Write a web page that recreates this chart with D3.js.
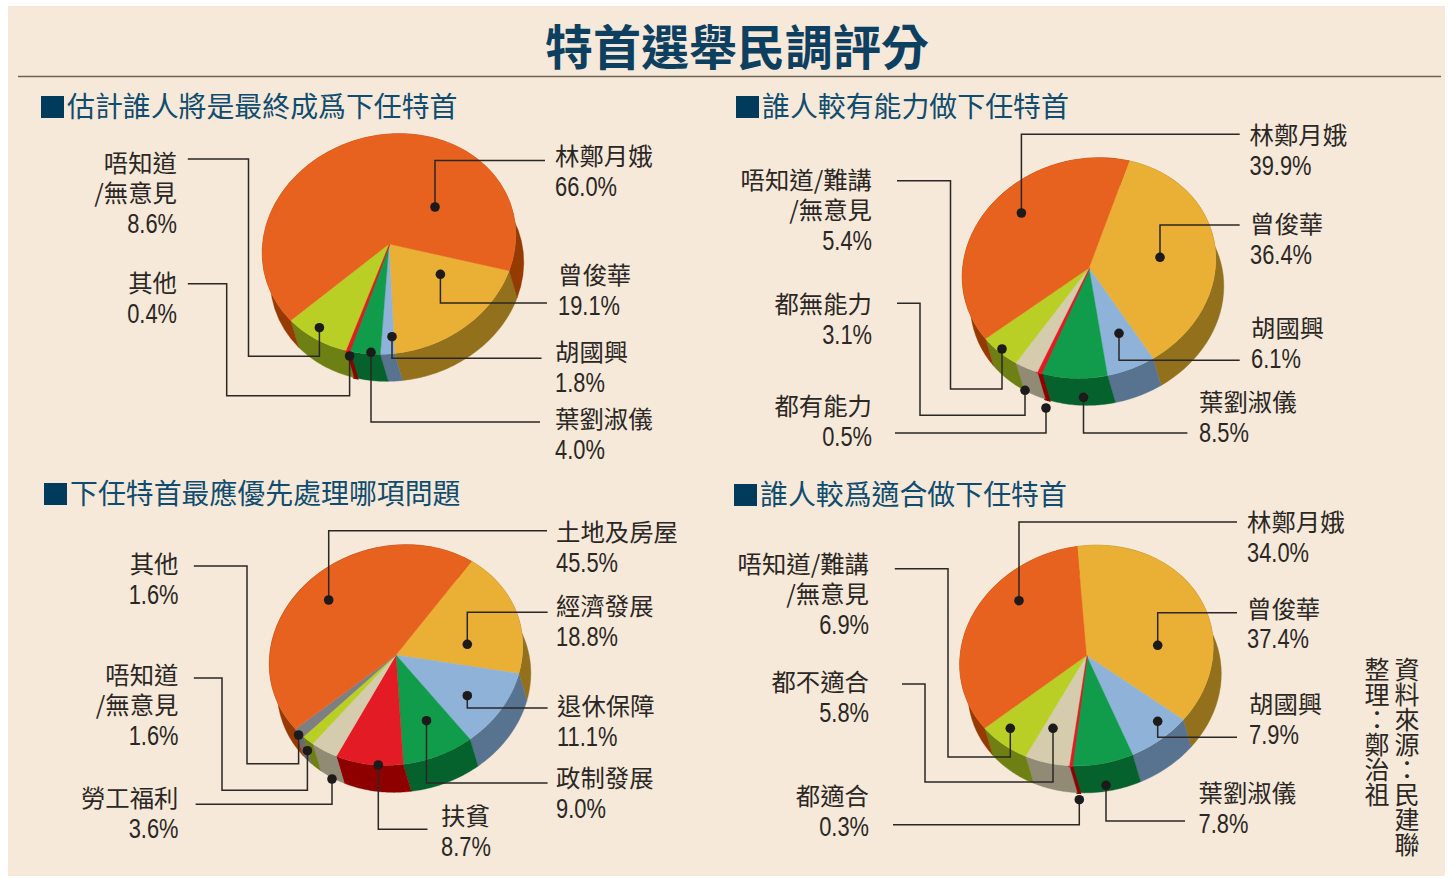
<!DOCTYPE html>
<html lang="zh-Hant">
<head>
<meta charset="utf-8">
<script src="https://cdn.jsdelivr.net/npm/d3@7/dist/d3.min.js"></script>
<style>
html,body{margin:0;padding:0;background:#fff;overflow:hidden}
svg{display:block}
text{font-family:"Noto Sans CJK TC","Noto Sans CJK SC",sans-serif}
.pct{font-family:"Liberation Sans",sans-serif}
</style>
</head>
<body>
<script>
// ---------- DATA ----------
const titleText = "特首選舉民調評分";
const sourceLines = ["資料來源：民建聯", "整理：鄭治祖"];

const headings = ["估計誰人將是最終成爲下任特首", "誰人較有能力做下任特首", "下任特首最應優先處理哪項問題", "誰人較爲適合做下任特首"];

const categories1 = [["曾俊華"], ["胡國興"], ["葉劉淑儀"], ["其他"], ["唔知道", "/無意見"], ["林鄭月娥"]];
const values1 = [19.1, 1.8, 4.0, 0.4, 8.6, 66.0];

const categories2 = [["曾俊華"], ["胡國興"], ["葉劉淑儀"], ["都有能力"], ["都無能力"], ["唔知道/難講", "/無意見"], ["林鄭月娥"]];
const values2 = [36.4, 6.1, 8.5, 0.5, 3.1, 5.4, 39.9];

const categories3 = [["經濟發展"], ["退休保障"], ["政制發展"], ["扶貧"], ["勞工福利"], ["唔知道", "/無意見"], ["其他"], ["土地及房屋"]];
const values3 = [18.8, 11.1, 9.0, 8.7, 3.6, 1.6, 1.6, 45.5];

const categories4 = [["曾俊華"], ["胡國興"], ["葉劉淑儀"], ["都適合"], ["都不適合"], ["唔知道/難講", "/無意見"], ["林鄭月娥"]];
const values4 = [37.4, 7.9, 7.8, 0.3, 5.8, 6.9, 34.0];

// ---------- STYLE ----------
const C = {
  gold: ["#EAB035", "#92701C"], blue: ["#8FB2D8", "#58738F"], green: ["#109C4B", "#06622C"],
  red: ["#E31B25", "#8E0000"], tan: ["#D5CBAD", "#918B75"], lime: ["#BACF26", "#6E8014"],
  gray: ["#7E7F82", "#6A6A6A"], orange: ["#E8621F", "#953A00"]
};
const colors1 = [C.gold, C.blue, C.green, C.red, C.lime, C.orange];
const colors2 = [C.gold, C.blue, C.green, C.red, C.tan, C.lime, C.orange];
const colors3 = [C.gold, C.blue, C.green, C.red, C.tan, C.lime, C.gray, C.orange];
const colors4 = [C.gold, C.blue, C.green, C.red, C.tan, C.lime, C.orange];

// ---------- LAYOUT (annotation geometry, in page pixels) ----------
const leaders1 = [
  [[440.4,274.3],[440.4,303],[547,303]],
  [[392,336.7],[392,358.3],[541.5,358.3]],
  [[371,352.3],[371,422],[540,422]],
  [[349.6,356],[349.6,395.7],[226.7,395.7],[226.7,283.7],[187.8,283.7]],
  [[319.4,327.7],[319.4,356.3],[248.5,356.3],[248.5,159],[187.8,159]],
  [[435,207],[435,160.5],[545,160.5]]
];
const labels1 = [[558,276,"start"],[555,353,"start"],[555,420,"start"],[177,284,"end"],[177,164,"end"],[555,157,"start"]];

const leaders2 = [
  [[1160,257.3],[1160,225],[1239.7,225]],
  [[1119,333.3],[1119,360.3],[1239.7,360.3]],
  [[1083.5,397.3],[1083.5,433],[1187.4,433]],
  [[1046,408],[1046,433],[895,433]],
  [[1025,390.3],[1025,415.3],[920,415.3],[920,303.3],[897,303.3]],
  [[1002,349],[1002,389],[950.5,389],[950.5,180.7],[897,180.7]],
  [[1021.4,213],[1021.4,134.3],[1239.7,134.3]]
];
const labels2 = [[1250,225,"start"],[1251,329,"start"],[1199,403,"start"],[872,407,"end"],[872,305,"end"],[872,181,"end"],[1249.5,136,"start"]];

const leaders3 = [
  [[467.3,644.3],[467.3,612.3],[547.6,612.3]],
  [[467.3,695.7],[467.3,708],[547.6,708]],
  [[426.5,720.7],[426.5,783],[547.6,783]],
  [[378.3,765],[378.3,829.3],[427.5,829.3]],
  [[332,779],[332,804.3],[195.6,804.3]],
  [[307.4,750.7],[307.4,790.3],[222,790.3],[222,678],[193.8,678]],
  [[298.6,735],[298.6,763.7],[247,763.7],[247,566],[193.8,566]],
  [[328.7,600],[328.7,530.7],[547,530.7]]
];
const labels3 = [[556,607,"start"],[557,707,"start"],[556,779,"start"],[441,817,"start"],[178.5,799,"end"],[178.5,676,"end"],[178.5,565,"end"],[556,532.7,"start"]];

const leaders4 = [
  [[1157.7,645.3],[1157.7,612.7],[1237,612.7]],
  [[1157.7,721.3],[1157.7,737.3],[1237,737.3]],
  [[1106,785.3],[1106,821],[1185,821]],
  [[1079.3,799.7],[1079.3,824.7],[893,824.7]],
  [[1053,728.3],[1053,782],[925,782],[925,684],[902,684]],
  [[1010.3,728.3],[1010.3,757],[948,757],[948,568.7],[894.8,568.7]],
  [[1019,600.7],[1019,522],[1237,522]]
];
const labels4 = [[1247,609.3,"start"],[1249,705,"start"],[1198.5,794,"start"],[869,796.7,"end"],[869,682.7,"end"],[869,565,"end"],[1247,522.7,"start"]];

const pies = [
  {cx:389, cy:244, start:121.5, cat:categories1, val:values1, col:colors1, lead:leaders1, lab:labels1},
  {cx:1089, cy:268, start:31.3, cat:categories2, val:values2, col:colors2, lead:leaders2, lab:labels2},
  {cx:396, cy:655, start:49.4, cat:categories3, val:values3, col:colors3, lead:leaders3, lab:labels3},
  {cx:1086.5, cy:655.5, start:8.6, cat:categories4, val:values4, col:colors4, lead:leaders4, lab:labels4}
];
const headPos = [[41,107],[736,107],[44,494],[734,495]];

const RX = 128, RY = 109, TILT = 15, DX = 8, DY = 27;
const LINE = 30, INK = "#2b2725", BG = "#F6E9D9", NAVY = "#003B5C", HEAD = "#0F4C6F";
const CJK_SHIFT = -2.3, PCT_SQUEEZE = 0.81;

// ---------- DRAW ----------
const svg = d3.select("body").append("svg").attr("width", 1454).attr("height", 879);
svg.append("rect").attr("x", 8).attr("y", 6).attr("width", 1437).attr("height", 870).attr("fill", BG);

svg.append("text").text(titleText).attr("x", 737).attr("y", 43.5)
  .attr("text-anchor", "middle").attr("dominant-baseline", "central")
  .attr("font-size", 48).attr("font-weight", 700).attr("fill", "#0D4060");
svg.append("line").attr("x1", 18).attr("x2", 1441).attr("y1", 76.5).attr("y2", 76.5)
  .attr("stroke", "#6b6358").attr("stroke-width", 1.5);

headings.forEach((h, i) => {
  const [x, y] = headPos[i];
  svg.append("rect").attr("x", x).attr("y", y - 11).attr("width", 23).attr("height", 22).attr("fill", NAVY);
  svg.append("text").text(h).attr("x", x + 26).attr("y", y - 2)
    .attr("dominant-baseline", "central").attr("font-size", 27.9).attr("fill", HEAD);
});

const rad = d3.scaleLinear().domain([0, 360]).range([0, 2 * Math.PI]);
const tilt = rad(TILT), cosT = Math.cos(tilt), sinT = Math.sin(tilt);
const rimLine = d3.line();
const edge = v => v < 1 ? 2.4 : 0.4; // hairline slices stay visible, as in the print

pies.forEach(p => {
  const g = svg.append("g");
  const arcs = d3.pie().sort(null).startAngle(rad(p.start)).endAngle(rad(p.start + 360))(p.val);
  const rim = (t, off) => {
    const u = RX * Math.sin(t), v = -RY * Math.cos(t);
    return [p.cx + u * cosT + v * sinT + off * DX, p.cy - u * sinT + v * cosT + off * DY];
  };
  // side walls
  g.selectAll("path.wall").data(arcs).join("path").attr("class", "wall")
    .attr("d", d => {
      const ts = d3.range(0, 41).map(k => d.startAngle + (d.endAngle - d.startAngle) * k / 40);
      return rimLine(ts.map(t => rim(t, 0)).concat(ts.slice().reverse().map(t => rim(t, 1)))) + "Z";
    })
    .attr("fill", (d, i) => p.col[i][1]).attr("stroke", (d, i) => p.col[i][1]).attr("stroke-width", d => edge(d.value));
  // top disc
  const top = g.append("g")
    .attr("transform", `translate(${p.cx},${p.cy}) rotate(${-TILT}) scale(${RX},${RY})`);
  const arcGen = d3.arc().innerRadius(0).outerRadius(1);
  top.selectAll("path").data(arcs).join("path").attr("d", arcGen)
    .attr("fill", (d, i) => p.col[i][0]).attr("stroke", (d, i) => p.col[i][0])
    .attr("stroke-width", d => edge(d.value)).attr("vector-effect", "non-scaling-stroke");
  // leaders and dots
  g.selectAll("path.lead").data(p.lead).join("path").attr("class", "lead")
    .attr("d", d => rimLine(d)).attr("fill", "none").attr("stroke", INK).attr("stroke-width", 1.5);
  g.selectAll("circle").data(p.lead).join("circle")
    .attr("cx", d => d[0][0]).attr("cy", d => d[0][1]).attr("r", 4.8).attr("fill", "#1d1a1b");
  // labels
  p.cat.forEach((lines, i) => {
    const [x, y, anchor] = p.lab[i];
    lines.forEach((s, k) => {
      svg.append("text").text(s).attr("x", x).attr("y", y + k * LINE + CJK_SHIFT)
        .attr("text-anchor", anchor).attr("dominant-baseline", "central")
        .attr("font-size", 24.4).attr("fill", INK);
    });
    const pct = svg.append("text").attr("class", "pct").text(d3.format(".1f")(p.val[i]) + "%")
      .attr("x", x).attr("y", y + lines.length * LINE)
      .attr("text-anchor", anchor).attr("dominant-baseline", "central")
      .attr("font-size", 27).attr("fill", INK);
    pct.attr("lengthAdjust", "spacingAndGlyphs")
      .attr("textLength", pct.node().getComputedTextLength() * PCT_SQUEEZE);
  });
});

// vertical source note
const srcX = [1407, 1377];
sourceLines.forEach((s, i) => {
  svg.append("text").text(s).attr("x", srcX[i]).attr("y", 657)
    .style("writing-mode", "vertical-rl").attr("font-size", 25).attr("fill", INK);
});
</script>
</body>
</html>
